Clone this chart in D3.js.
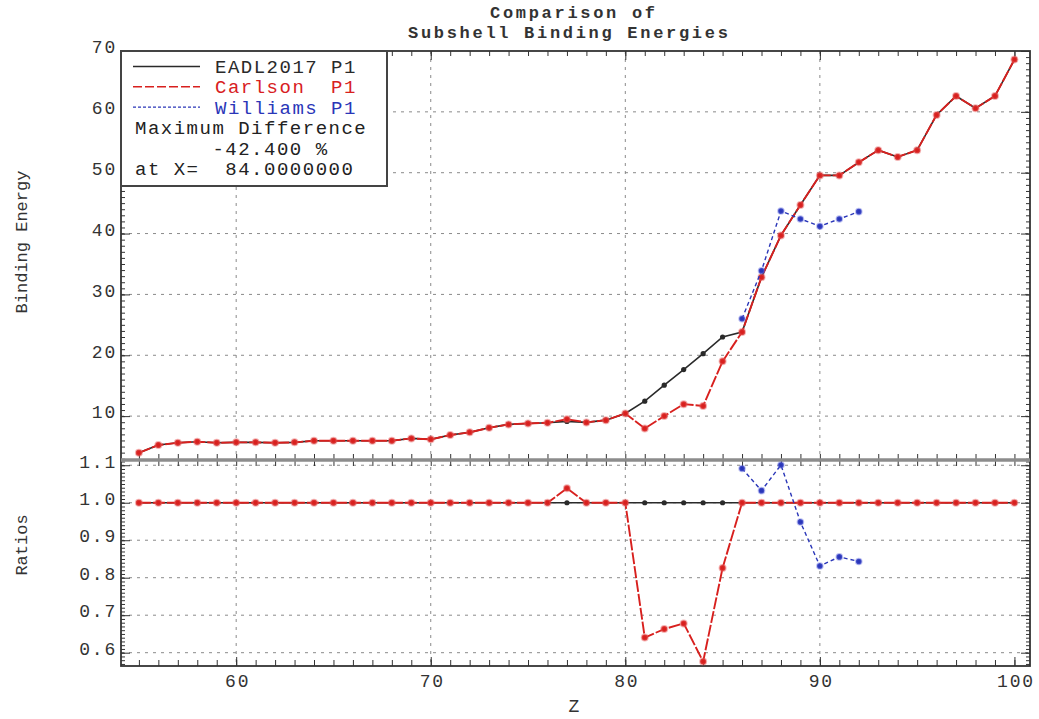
<!DOCTYPE html>
<html><head><meta charset="utf-8">
<script src="https://cdn.jsdelivr.net/npm/d3@7"></script>
<style>
body{margin:0;background:#fff}
text{font-family:"Liberation Mono","DejaVu Sans Mono",monospace;white-space:pre}
</style>
</head><body><svg id="c" width="1039" height="719"></svg>
<script>
// ---------------- data ----------------
const zValues = [55,56,57,58,59,60,61,62,63,64,65,66,67,68,69,70,71,72,73,74,75,76,77,
  78,79,80,81,82,83,84,85,86,87,88,89,90,91,92,93,94,95,96,97,98,99,100];
const eadlP1 = [3.98,5.25,5.62,5.79,5.62,5.69,5.69,5.62,5.69,5.95,5.95,5.95,5.95,5.95,6.34,6.18,6.89,7.33,8.08,
  8.64,8.80,8.90,9.13,8.97,9.34,10.44,12.46,15.08,17.65,20.27,23.0,23.82,32.84,39.7,44.7,49.56,49.56,51.7,
  53.7,52.6,53.7,59.5,62.6,60.6,62.6,68.6];
const carlsonP1 = [3.98,5.25,5.62,5.79,5.62,5.69,5.69,5.62,5.69,5.95,5.95,5.95,5.95,5.95,6.34,6.18,6.89,7.33,8.08,
  8.64,8.80,8.90,9.48,8.97,9.34,10.44,7.98,10.0,11.97,11.68,19.0,23.82,32.84,39.7,44.7,49.56,49.56,51.7,
  53.7,52.6,53.7,59.5,62.6,60.6,62.6,68.6];
const williamsZ = [86,87,88,89,90,91,92];
const williamsP1 = [26.0,33.9,43.7,42.4,41.2,42.4,43.6];
const xLabelTicks = [60,70,80,90,100];
const energyTicks = [10,20,30,40,50,60,70];
const ratioTicks = [0.6,0.7,0.8,0.9,1.0,1.1];
const titleLines = ["Comparison of","Subshell Binding Energies"];
const legendNames = ["EADL2017 P1","Carlson  P1","Williams P1"];
const noteLines = ["Maximum Difference","      -42.400 %","at X=  84.0000000"];

// ---------------- layout ----------------
const svg = d3.select("#c");
const L = 121, R = 1030, T = 51, M = 460, B = 666;
const x = d3.scaleLinear().domain([54.08, 100.8]).range([L, R]);
const yE = d3.scaleLinear().domain([2.79, 70]).range([M, T]);
const yR = d3.scaleLinear().domain([0.5645, 1.114]).range([B, M]);

const cBlack = "#2a2a2a", cRed = "#d8201e", cBlue = "#2a36b8";

// clip paths
const defs = svg.append("defs");
defs.append("clipPath").attr("id","cu").append("rect").attr("x",L).attr("y",T).attr("width",R-L).attr("height",M-T);
defs.append("clipPath").attr("id","cl").append("rect").attr("x",L).attr("y",M).attr("width",R-L).attr("height",B-M);

// gridlines
const grid = svg.append("g").attr("stroke","#8a8a8a").attr("stroke-width",1).attr("stroke-dasharray","3,5");
[60,70,80,90].forEach(v=>{
  grid.append("line").attr("x1",x(v)).attr("x2",x(v)).attr("y1",T).attr("y2",B);
});
energyTicks.filter(v=>v<70).forEach(v=>{
  grid.append("line").attr("x1",L).attr("x2",R).attr("y1",yE(v)).attr("y2",yE(v));
});
ratioTicks.forEach(v=>{
  grid.append("line").attr("x1",L).attr("x2",R).attr("y1",yR(v)).attr("y2",yR(v));
});

// ticks via d3 axes (inward, unlabeled)
function ticksOnly(axis, tr){
  const g = svg.append("g").attr("transform",tr).call(axis.tickFormat(""));
  g.select(".domain").remove();
  g.selectAll("line").attr("stroke","#333").attr("stroke-width",1);
  return g;
}
const zMinor = zValues;
const zMajor = [60,70,80,90,100];
const eMinor = d3.range(3,70,1);
const rMinor = d3.range(57,112,1).map(v=>v/100);
// upper panel
ticksOnly(d3.axisLeft(yE).tickValues(eMinor).tickSize(-4), `translate(${L},0)`);
ticksOnly(d3.axisLeft(yE).tickValues(energyTicks).tickSize(-9), `translate(${L},0)`);
ticksOnly(d3.axisRight(yE).tickValues(eMinor).tickSize(-4), `translate(${R},0)`);
ticksOnly(d3.axisRight(yE).tickValues(energyTicks).tickSize(-9), `translate(${R},0)`);
ticksOnly(d3.axisTop(x).tickValues(zMinor).tickSize(-5), `translate(0,${T})`);
ticksOnly(d3.axisTop(x).tickValues(zMajor).tickSize(-9), `translate(0,${T})`);
ticksOnly(d3.axisBottom(x).tickValues(zMinor).tickSize(-6), `translate(0,${M})`);
// lower panel
ticksOnly(d3.axisLeft(yR).tickValues(rMinor).tickSize(-4), `translate(${L},0)`);
ticksOnly(d3.axisLeft(yR).tickValues(ratioTicks).tickSize(-9), `translate(${L},0)`);
ticksOnly(d3.axisRight(yR).tickValues(rMinor).tickSize(-4), `translate(${R},0)`);
ticksOnly(d3.axisRight(yR).tickValues(ratioTicks).tickSize(-9), `translate(${R},0)`);
ticksOnly(d3.axisTop(x).tickValues(zMinor).tickSize(-6), `translate(0,${M})`);
ticksOnly(d3.axisBottom(x).tickValues(zMinor).tickSize(-6), `translate(0,${B})`);
ticksOnly(d3.axisBottom(x).tickValues(zMajor).tickSize(-9), `translate(0,${B})`);

// frames
svg.append("rect").attr("x",L).attr("y",T).attr("width",R-L).attr("height",B-T)
  .attr("fill","none").attr("stroke","#333").attr("stroke-width",1.8);
svg.append("line").attr("x1",L).attr("x2",R).attr("y1",M).attr("y2",M)
  .attr("stroke","#8c8c8c").attr("stroke-width",3.5);

// ---------------- series ----------------
function drawSeries(clip, xs, ys, yScale, color, width, dash, r, halo){
  const g = svg.append("g").attr("clip-path",`url(#${clip})`);
  const pts = xs.map((z,i)=>[x(z), yScale(ys[i])]);
  g.append("path").attr("d", d3.line()(pts)).attr("fill","none")
    .attr("stroke",color).attr("stroke-width",width).attr("stroke-dasharray",dash||null);
  g.selectAll("circle").data(pts).join("circle").attr("cx",d=>d[0]).attr("cy",d=>d[1]).attr("r",r)
    .attr("fill",color).attr("stroke",halo||"none").attr("stroke-width",halo?2:0);
}
const eadlRatio = eadlP1.map((v,i)=>v/eadlP1[i]);
const carlsonRatio = carlsonP1.map((v,i)=>v/eadlP1[i]);
const williamsRatio = williamsP1.map((v,i)=>v/eadlP1[zValues.indexOf(williamsZ[i])]);

drawSeries("cu",zValues,eadlP1,yE,cBlack,1.6,null,2.6);
drawSeries("cu",zValues,carlsonP1,yE,cRed,1.9,"12,2",3,"rgba(230,90,90,0.45)");
drawSeries("cu",williamsZ,williamsP1,yE,cBlue,1.4,"4,3",2.8,"rgba(90,100,220,0.4)");
drawSeries("cl",zValues,eadlRatio,yR,cBlack,1.6,null,2.6);
drawSeries("cl",zValues,carlsonRatio,yR,cRed,1.9,"12,2",3,"rgba(230,90,90,0.45)");
drawSeries("cl",williamsZ,williamsRatio,yR,cBlue,1.4,"4,3",2.8,"rgba(90,100,220,0.4)");

// ---------------- labels ----------------
function labelAxis(axis, tr){
  const g = svg.append("g").attr("transform",tr).call(axis);
  g.select(".domain").remove();
  g.selectAll("line").remove();
  g.selectAll("text").attr("font-family","Liberation Mono").attr("font-size",18)
    .attr("letter-spacing","1.8px").attr("fill","#333");
  return g;
}
labelAxis(d3.axisLeft(yE).tickValues(energyTicks).tickSize(0).tickPadding(4).tickFormat(d3.format("d")),
  `translate(${L},-4)`).selectAll("text").attr("x",-4);
labelAxis(d3.axisLeft(yR).tickValues(ratioTicks).tickSize(0).tickPadding(4).tickFormat(d3.format(".1f")),
  `translate(${L},-4)`).selectAll("text").attr("x",-4);
labelAxis(d3.axisBottom(x).tickValues(xLabelTicks).tickSize(0).tickPadding(8).tickFormat(d3.format("d")),
  `translate(1,${B})`);

// axis titles
svg.append("text").attr("transform","translate(27,242) rotate(-90)").attr("text-anchor","middle")
  .attr("font-size",17).attr("fill","#333").text("Binding Energy");
svg.append("text").attr("transform","translate(27,545) rotate(-90)").attr("text-anchor","middle")
  .attr("font-size",17).attr("fill","#333").text("Ratios");
svg.append("text").attr("x",574).attr("y",712).attr("text-anchor","middle")
  .attr("font-size",18).attr("fill","#333").text("Z");

// title
svg.append("text").attr("x",490).attr("y",18).attr("font-size",17).attr("font-weight","bold")
  .attr("letter-spacing","2.7px").attr("fill","#333").text(titleLines[0]);
svg.append("text").attr("x",408).attr("y",38).attr("font-size",17).attr("font-weight","bold")
  .attr("letter-spacing","2.7px").attr("fill","#333").text(titleLines[1]);

// legend
const lg = svg.append("g");
lg.append("rect").attr("x",L).attr("y",T).attr("width",266).attr("height",135)
  .attr("fill","#fff").attr("stroke","#444").attr("stroke-width",2);
const legColors = [cBlack,cRed,cBlue];
const legDash = [null,"9,3","3,2"];
legendNames.forEach((n,i)=>{
  const yb = 73 + i*20.3;
  lg.append("line").attr("x1",133).attr("x2",200).attr("y1",yb-6.5).attr("y2",yb-6.5)
    .attr("stroke",legColors[i]).attr("stroke-width",1.4).attr("stroke-dasharray",legDash[i]);
  lg.append("text").attr("x",215).attr("y",yb).attr("font-size",19).attr("letter-spacing","1.5px")
    .attr("fill",legColors[i]).text(n);
});
noteLines.forEach((n,i)=>{
  lg.append("text").attr("x",135).attr("y",[133.5,155,175][i]).attr("font-size",19)
    .attr("letter-spacing","1.5px").attr("fill","#222").text(n);
});
</script>
</body></html>
